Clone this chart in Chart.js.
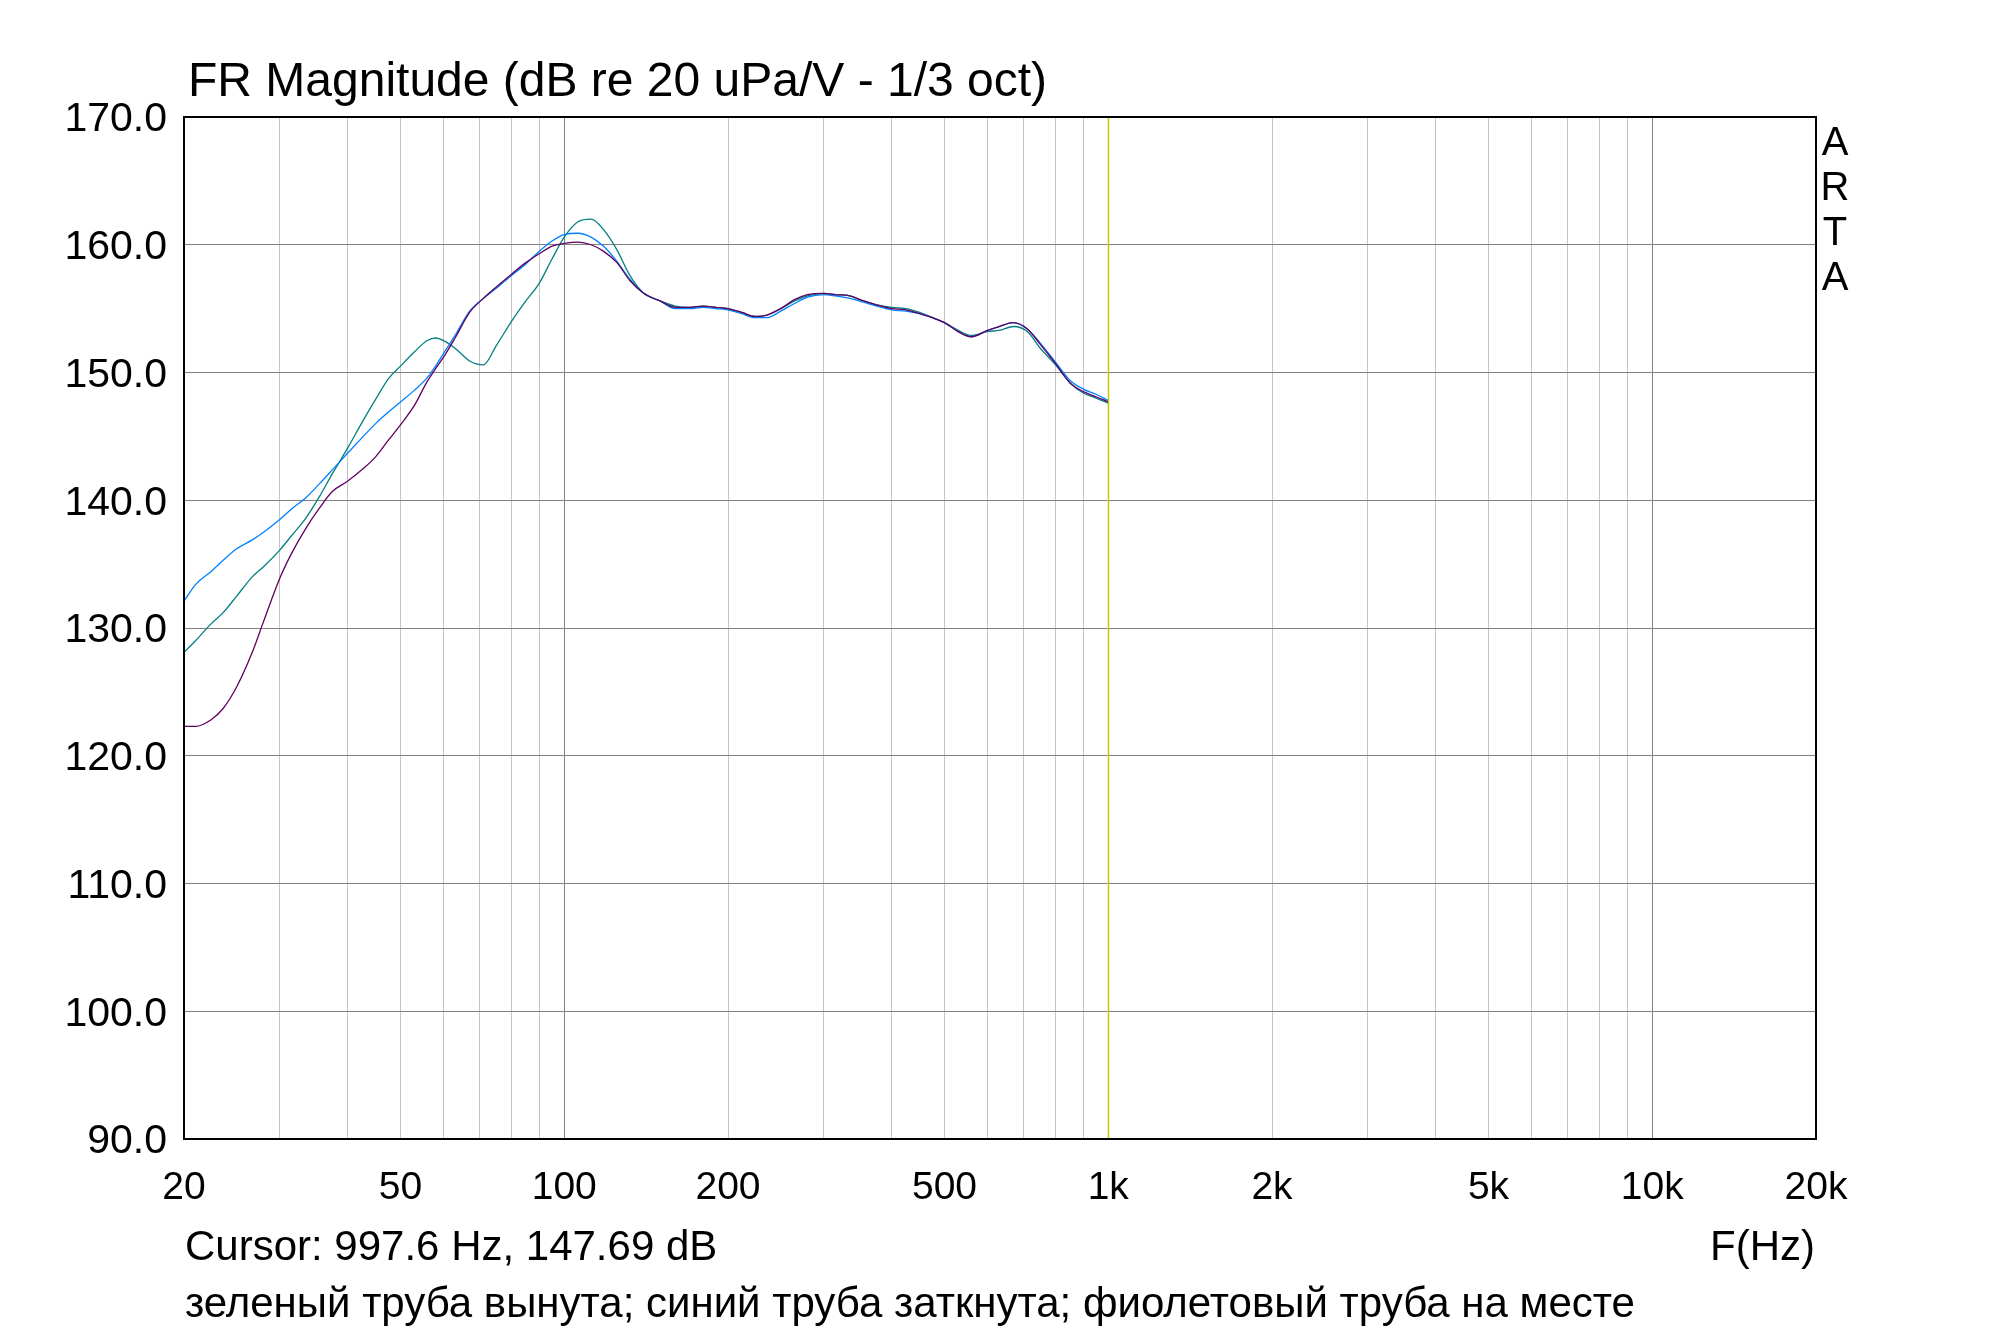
<!DOCTYPE html>
<html>
<head>
<meta charset="utf-8">
<script src="https://cdn.jsdelivr.net/npm/chart.js@4/dist/chart.umd.min.js"></script>
<style>
  body { margin: 0; background: #fff; }
</style>
</head>
<body>
<canvas id="grafico" width="2000" height="1331"></canvas>
<script>
// frequencies (Hz) shared by the three curves
var freqs = [20, 21, 22.4, 23.6, 25, 26.7, 28, 30, 31.5, 33.5, 35.5, 37.5, 40, 42.5, 45, 47.5, 50, 53, 56, 58, 60,
  63, 67, 71, 75, 80, 85, 90, 95, 100, 106, 112, 118, 125, 132, 140, 150, 160, 170, 180, 190, 200,
  212, 224, 236, 250, 265, 280, 300, 315, 335, 355, 375, 400, 425, 450, 475, 500, 530, 560, 600,
  630, 670, 710, 750, 800, 850, 900, 950, 1000];

// зеленый - труба вынута
var verde = [128.1, 129.0, 130.3, 131.2, 132.5, 134.0, 134.8, 136.1, 137.2, 138.6, 140.3, 142.1, 144.1, 146.1, 147.9, 149.5, 150.5, 151.6, 152.5, 152.7, 152.5,
  151.9, 150.9, 150.6, 152.1, 154.0, 155.6, 157.0, 158.9, 160.6, 161.8, 162.0, 161.2, 159.6, 157.6, 156.2, 155.6, 155.2, 155.1, 155.2, 155.1, 155.0,
  154.7, 154.4, 154.5, 155.0, 155.6, 156.0, 156.2, 156.1, 156.0, 155.6, 155.3, 155.1, 155.0, 154.7, 154.3, 153.9, 153.3, 152.9, 153.2,
  153.3, 153.6, 153.2, 151.9, 150.6, 149.2, 148.4, 148.0, 147.6];

// синий - труба заткнута
var azul = [132.1, 133.4, 134.4, 135.3, 136.2, 136.9, 137.5, 138.5, 139.3, 140.2, 141.3, 142.4, 143.7, 144.9, 146.0, 146.9, 147.7, 148.6, 149.6, 150.5, 151.5,
  152.9, 154.8, 155.8, 156.6, 157.6, 158.5, 159.5, 160.3, 160.8, 160.9, 160.6, 159.9, 158.7, 157.3, 156.2, 155.6, 155.0, 155.0, 155.1, 155.0, 154.9,
  154.6, 154.3, 154.3, 154.8, 155.4, 155.9, 156.1, 156.0, 155.8, 155.5, 155.2, 154.9, 154.8, 154.6, 154.3, 153.9, 153.2, 152.8, 153.3,
  153.6, 153.9, 153.4, 152.3, 150.8, 149.4, 148.7, 148.3, 147.8];

// фиолетовый - труба на месте
var roxo = [122.3, 122.3, 122.8, 123.7, 125.4, 128.1, 130.5, 133.9, 135.8, 137.8, 139.4, 140.7, 141.5, 142.4, 143.4, 144.7, 145.9, 147.4, 149.3, 150.3, 151.2,
  152.7, 154.7, 155.8, 156.7, 157.7, 158.6, 159.3, 159.9, 160.1, 160.2, 160.0, 159.5, 158.6, 157.2, 156.2, 155.6, 155.1, 155.1, 155.2, 155.1, 155.0,
  154.7, 154.4, 154.5, 155.0, 155.7, 156.1, 156.2, 156.1, 156.0, 155.6, 155.3, 155.0, 154.9, 154.6, 154.3, 153.9, 153.2, 152.8, 153.3,
  153.6, 153.9, 153.4, 152.2, 150.7, 149.2, 148.5, 148.1, 147.7];

var gradeFreq = [20, 30, 40, 50, 60, 70, 80, 90, 100, 200, 300, 400, 500, 600, 700, 800, 900, 1000,
  2000, 3000, 4000, 5000, 6000, 7000, 8000, 9000, 10000, 20000];
var gradeForte = [100, 1000, 10000];
var rotulosX = {20: "20", 50: "50", 100: "100", 200: "200", 500: "500", 1000: "1k", 2000: "2k", 5000: "5k", 10000: "10k", 20000: "20k"};

var cursorFreq = 997.6;
var cursorDb = 147.69;

var titulo = "FR Magnitude (dB re 20 uPa/V - 1/3 oct)";
var textoCursor = "Cursor: " + cursorFreq + " Hz, " + cursorDb + " dB";
var textoLegenda = "зеленый труба вынута; синий труба заткнута; фиолетовый труба на месте";

var fonte = "'Liberation Sans', Arial, sans-serif";

function pontos(valores) {
  var lista = [];
  for (var i = 0; i < freqs.length; i++) {
    lista.push({x: freqs[i], y: valores[i]});
  }
  return lista;
}

var textosArta = {
  id: 'textosArta',
  afterDraw: function(chart) {
    var ctx = chart.ctx;
    var area = chart.chartArea;
    var x = chart.scales.x;

    // cursor
    var xc = Math.round(x.getPixelForValue(cursorFreq)) + 0.5;
    ctx.save();
    ctx.strokeStyle = "#c8c800";
    ctx.lineWidth = 1.5;
    ctx.beginPath();
    ctx.moveTo(xc, area.top);
    ctx.lineTo(xc, area.bottom);
    ctx.stroke();

    // moldura
    ctx.strokeStyle = "#000";
    ctx.lineWidth = 2;
    ctx.strokeRect(area.left, area.top, area.right - area.left, area.bottom - area.top);

    ctx.fillStyle = "#000";
    ctx.textBaseline = "alphabetic";
    ctx.textAlign = "left";
    ctx.font = "48px " + fonte;
    ctx.fillText(titulo, 188, 96);

    ctx.font = "42px " + fonte;
    ctx.fillText(textoCursor, 185, 1260);
    ctx.fillText(textoLegenda, 185, 1317);
    ctx.textAlign = "right";
    ctx.fillText("F(Hz)", 1815, 1260);

    ctx.textAlign = "center";
    ctx.font = "40px " + fonte;
    var letras = ["A", "R", "T", "A"];
    for (var i = 0; i < letras.length; i++) {
      ctx.fillText(letras[i], 1835, 155 + i * 45);
    }
    ctx.restore();
  }
};

var mChart = new Chart(document.getElementById("grafico"), {
  type: 'line',
  data: {
    datasets: [{
        label: 'зеленый',
        data: pontos(verde),
        borderColor: "#008080",
        order: 2
      }, {
        label: 'синий',
        data: pontos(azul),
        borderColor: "#0080ff",
        order: 1
      }, {
        label: 'фиолетовый',
        data: pontos(roxo),
        borderColor: "#600060",
        order: 0
      }
    ]
  },
  options: {
    responsive: false,
    animation: false,
    layout: { padding: { left: 0, top: 117, right: 184, bottom: 0 } },
    elements: {
      line: { borderWidth: 1.3, cubicInterpolationMode: 'monotone', fill: false },
      point: { radius: 0 }
    },
    plugins: {
      legend: { display: false },
      tooltip: { enabled: false }
    },
    scales: {
      x: {
        type: 'logarithmic',
        min: 20,
        max: 20000,
        afterBuildTicks: function(scale) {
          scale.ticks = gradeFreq.map(function(v) { return {value: v}; });
        },
        afterFit: function(scale) { scale.height = 192; },
        border: { display: false },
        grid: {
          drawTicks: false,
          lineWidth: 1,
          color: function(c) {
            if (c.tick && gradeForte.indexOf(c.tick.value) >= 0) return "#808080";
            return "#c4c4c4";
          }
        },
        ticks: {
          autoSkip: false,
          maxRotation: 0,
          padding: 26,
          color: "#000",
          font: { family: fonte, size: 39 },
          callback: function(value) {
            return rotulosX[value] || "";
          }
        }
      },
      y: {
        min: 90,
        max: 170,
        afterFit: function(scale) { scale.width = 184; },
        border: { display: false },
        grid: { drawTicks: false, lineWidth: 1, color: "#808080" },
        ticks: {
          stepSize: 10,
          padding: 17,
          labelOffset: 3,
          color: "#000",
          font: { family: fonte, size: 41 },
          callback: function(value) { return value.toFixed(1); }
        }
      }
    }
  },
  plugins: [textosArta]
});
</script>
</body>
</html>
